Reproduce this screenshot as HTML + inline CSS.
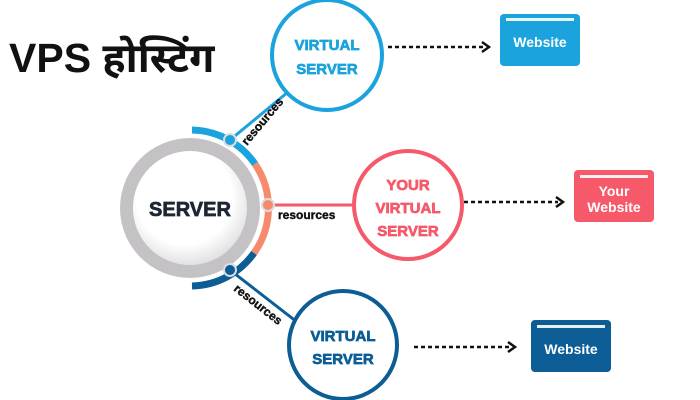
<!DOCTYPE html>
<html><head><meta charset="utf-8"><style>
html,body{margin:0;padding:0;background:#fff;}
svg{display:block;font-family:"Liberation Sans",sans-serif;}
svg text{font-weight:700;}
.t{stroke-width:0.7;}
</style></head><body>
<svg width="700" height="400" viewBox="0 0 700 400" xmlns="http://www.w3.org/2000/svg">
<defs>
<radialGradient id="g" cx="0.45" cy="0.4" r="0.6">
<stop offset="0.7" stop-color="#ffffff"/><stop offset="1" stop-color="#e2e2e4"/>
</radialGradient>
</defs>
<text x="9" y="72" font-size="41" fill="#111" style="font-family:'Liberation Sans','Noto Sans Devanagari','Lohit Devanagari',sans-serif">VPS होस्टिंग</text>

<line x1="230" y1="140" x2="288" y2="92" stroke="#1aa3dc" stroke-width="3"/>
<line x1="268" y1="205" x2="354" y2="205" stroke="#f5596a" stroke-width="3"/>
<line x1="230" y1="270" x2="297" y2="322" stroke="#0c5d96" stroke-width="3"/>

<circle cx="190" cy="208" r="70" fill="#c4c2c5"/>
<circle cx="190" cy="208" r="57" fill="url(#g)"/>
<path d="M192 130 A78 78 0 0 1 255 164" fill="none" stroke="#1aa3dc" stroke-width="7"/>
<path d="M255 164 A78 78 0 0 1 254 253" fill="none" stroke="#f58a6c" stroke-width="7"/>
<path d="M254 253 A78 78 0 0 1 192 286" fill="none" stroke="#0c5d96" stroke-width="7"/>
<text class="t" x="190" y="216" font-size="20" fill="#1e2633" stroke="#1e2633" text-anchor="middle">SERVER</text>

<circle cx="230" cy="140" r="6" fill="#1aa3dc" stroke="#ddd" stroke-width="2"/>
<circle cx="268" cy="205" r="6" fill="#f58a6c" stroke="#ddd" stroke-width="2"/>
<circle cx="230" cy="270" r="6" fill="#0c5d96" stroke="#ddd" stroke-width="2"/>

<text class="t" font-size="12" fill="#111" stroke="#111" style="stroke-width:0.4" transform="translate(247,146) rotate(-50)">resources</text>
<text class="t" x="278" y="219" font-size="12" fill="#111" stroke="#111" style="stroke-width:0.4">resources</text>
<text class="t" font-size="12" fill="#111" stroke="#111" style="stroke-width:0.4" transform="translate(233,290) rotate(38)">resources</text>

<circle cx="327" cy="55" r="55" fill="#fff" stroke="#1aa3dc" stroke-width="4"/>
<text class="t" x="327" y="50" font-size="15" fill="#1aa3dc" stroke="#1aa3dc" text-anchor="middle">VIRTUAL</text>
<text class="t" x="327" y="74" font-size="15" fill="#1aa3dc" stroke="#1aa3dc" text-anchor="middle">SERVER</text>

<circle cx="408" cy="205" r="54" fill="#fff" stroke="#f5596a" stroke-width="4"/>
<text class="t" x="408" y="190" font-size="15" fill="#f5596a" stroke="#f5596a" text-anchor="middle">YOUR</text>
<text class="t" x="408" y="213" font-size="15" fill="#f5596a" stroke="#f5596a" text-anchor="middle">VIRTUAL</text>
<text class="t" x="408" y="236" font-size="15" fill="#f5596a" stroke="#f5596a" text-anchor="middle">SERVER</text>

<circle cx="343" cy="345" r="54" fill="#fff" stroke="#0c5d96" stroke-width="4"/>
<text class="t" x="343" y="341" font-size="15" fill="#0c5d96" stroke="#0c5d96" text-anchor="middle">VIRTUAL</text>
<text class="t" x="343" y="364" font-size="15" fill="#0c5d96" stroke="#0c5d96" text-anchor="middle">SERVER</text>

<g stroke="#111" stroke-width="2.5" fill="none">
<line x1="388" y1="47" x2="484" y2="47" stroke-dasharray="4 3"/>
<path d="M482 42 L489 47 L482 52"/>
<line x1="464" y1="202" x2="558" y2="202" stroke-dasharray="4 3"/>
<path d="M556 197 L563 202 L556 207"/>
<line x1="414" y1="347" x2="510" y2="347" stroke-dasharray="4 3"/>
<path d="M508 342 L515 347 L508 352"/>
</g>

<rect x="500" y="14" width="80" height="52" rx="4" fill="#1aa3dc"/>
<rect x="506" y="18" width="68" height="3" fill="#fff" opacity="0.9"/>
<text x="540" y="47" font-size="14" fill="#fff" text-anchor="middle">Website</text>

<rect x="574" y="170" width="80" height="52" rx="4" fill="#f5596a"/>
<rect x="580" y="175" width="68" height="3" fill="#fff" opacity="0.9"/>
<text x="614" y="196" font-size="14" fill="#fff" text-anchor="middle">Your</text>
<text x="614" y="212" font-size="14" fill="#fff" text-anchor="middle">Website</text>

<rect x="531" y="320" width="80" height="52" rx="4" fill="#0c5d96"/>
<rect x="537" y="325" width="68" height="3" fill="#fff" opacity="0.9"/>
<text x="571" y="354" font-size="14" fill="#fff" text-anchor="middle">Website</text>
</svg>
</body></html>
